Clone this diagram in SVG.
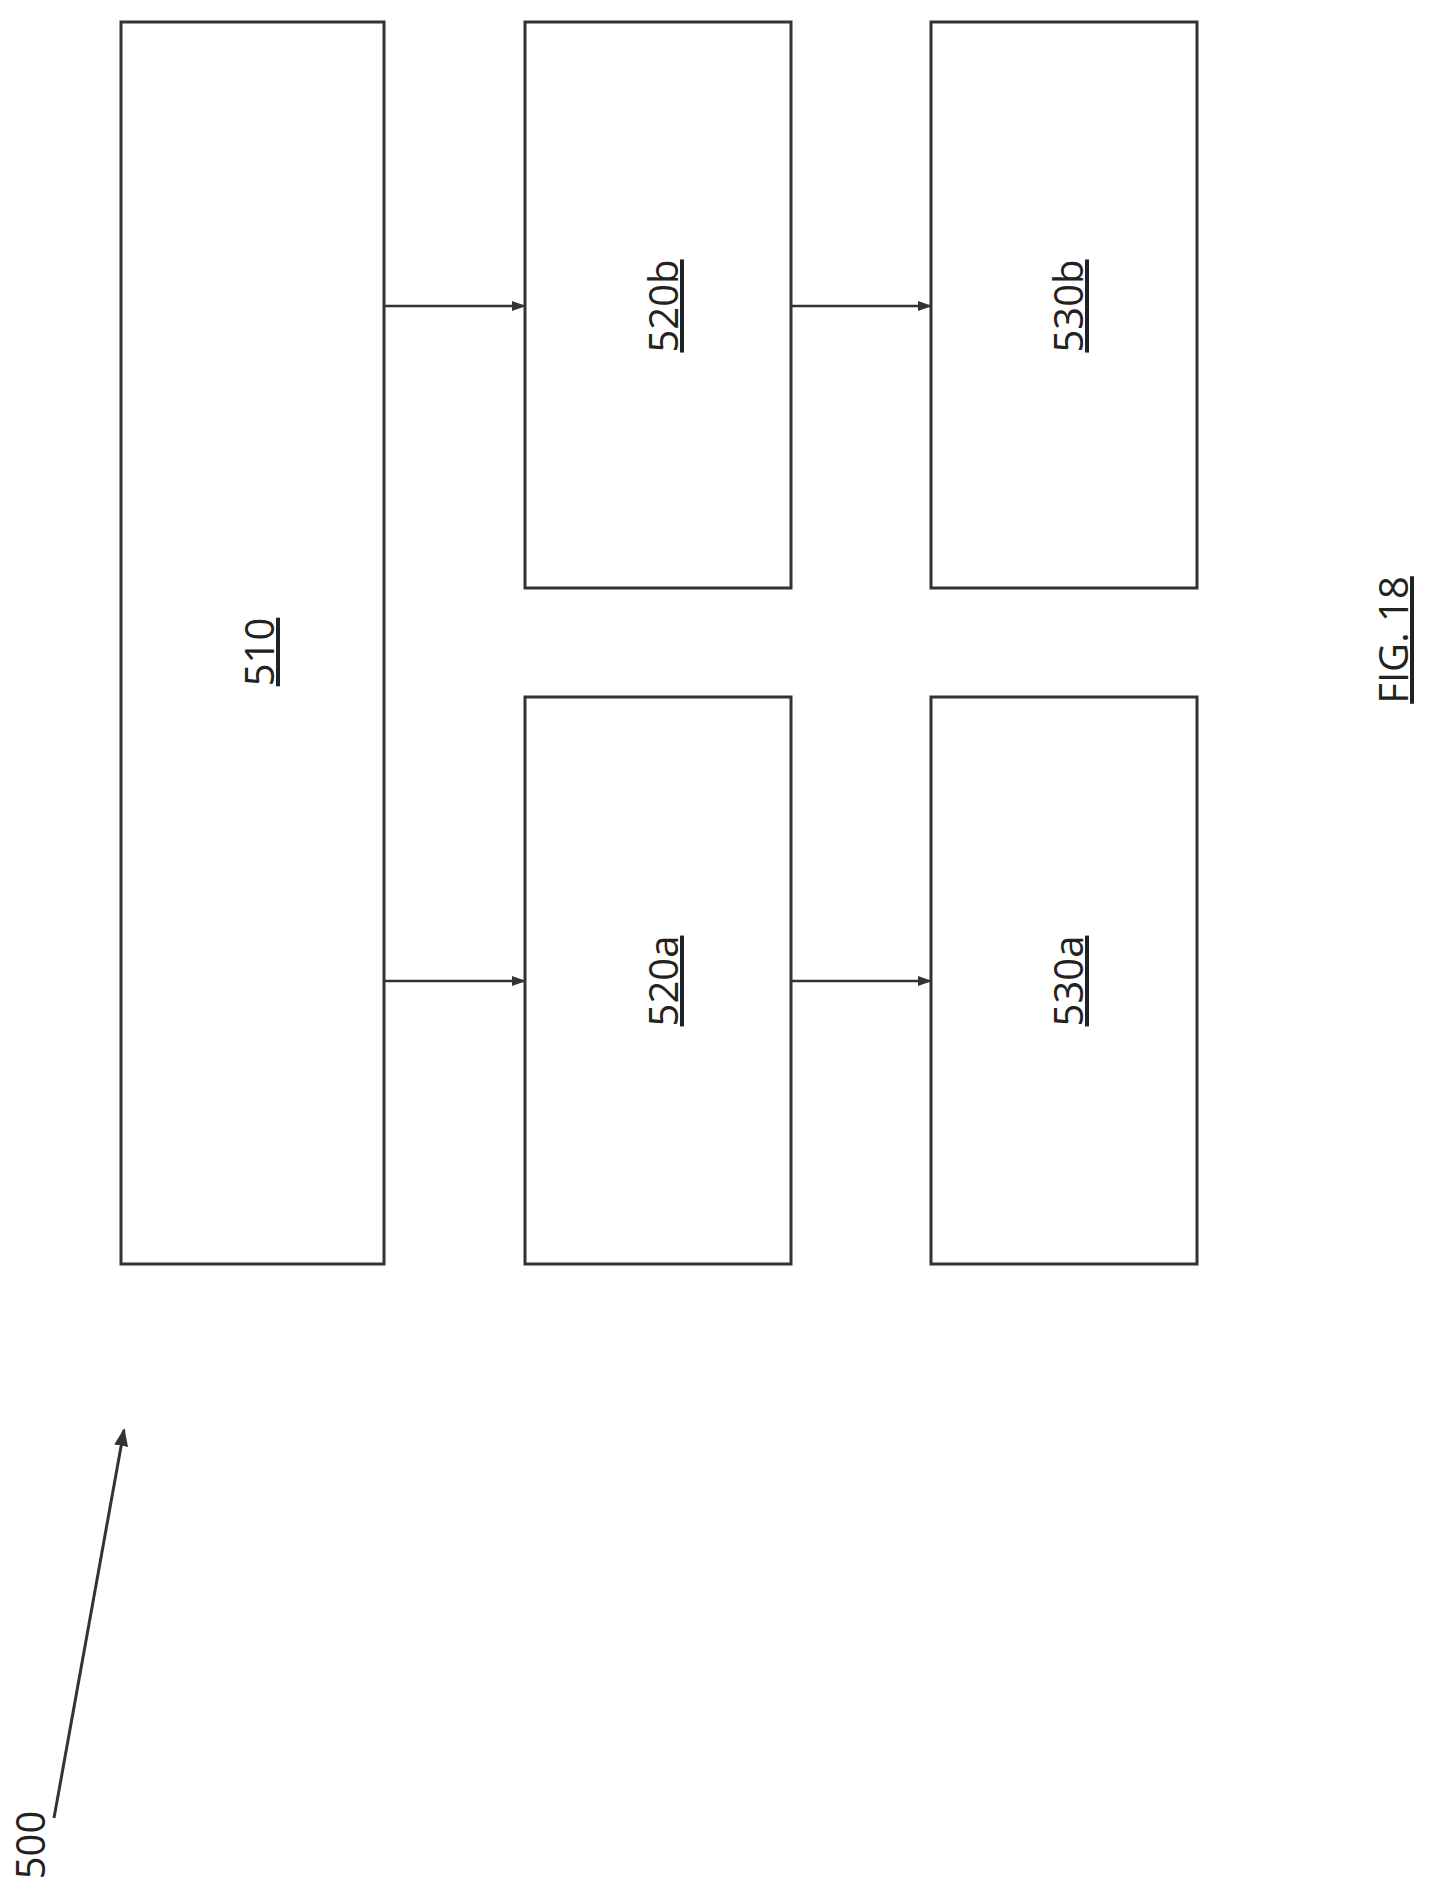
<svg xmlns="http://www.w3.org/2000/svg" width="1437" height="1889" viewBox="0 0 1437 1889">
<style>
.b{fill:#fff;stroke:#333;stroke-width:3}
.t{font-family:"Open Sans",sans-serif;font-size:40px;text-anchor:middle;text-decoration:underline;fill:#222}
.c{stroke:#333;stroke-width:2.5;fill:none}
</style>
<defs><marker id="a" markerWidth="14" markerHeight="12" refX="13" refY="6" orient="auto" markerUnits="userSpaceOnUse"><path d="M0,1 L14,6 L0,11 Z" fill="#333"/></marker>
<marker id="a2" markerWidth="18" markerHeight="14" refX="16" refY="7" orient="auto" markerUnits="userSpaceOnUse"><path d="M0,0 L18,7 L0,14 Z" fill="#333"/></marker></defs>
<rect width="1437" height="1889" fill="#fff"/>
<g id="n510"><rect class="b" x="121" y="22" width="263" height="1242"/><text class="t" transform="translate(274,652) rotate(-90)">510</text></g>
<g id="n520b"><rect class="b" x="525" y="22" width="266" height="566"/><text class="t" transform="translate(678,306) rotate(-90)">520b</text></g>
<g id="n520a"><rect class="b" x="525" y="697" width="266" height="567"/><text class="t" transform="translate(678,981) rotate(-90)">520a</text></g>
<g id="n530b"><rect class="b" x="931" y="22" width="266" height="566"/><text class="t" transform="translate(1083,306) rotate(-90)">530b</text></g>
<g id="n530a"><rect class="b" x="931" y="697" width="266" height="567"/><text class="t" transform="translate(1083,981) rotate(-90)">530a</text></g>
<g id="fig"><text class="t" transform="translate(1408,640) rotate(-90)">FIG. 18</text></g>
<g id="n500"><text class="t" style="text-decoration:none" transform="translate(45,1845) rotate(-90)">500</text></g>
<g id="connectors">
<line class="c" x1="384" y1="306" x2="525" y2="306" marker-end="url(#a)"/>
<line class="c" x1="384" y1="981" x2="525" y2="981" marker-end="url(#a)"/>
<line class="c" x1="791" y1="306" x2="931" y2="306" marker-end="url(#a)"/>
<line class="c" x1="791" y1="981" x2="931" y2="981" marker-end="url(#a)"/>
<line class="c" style="stroke-width:3" x1="54" y1="1818" x2="124" y2="1430" marker-end="url(#a2)"/>
</g>
</svg>
